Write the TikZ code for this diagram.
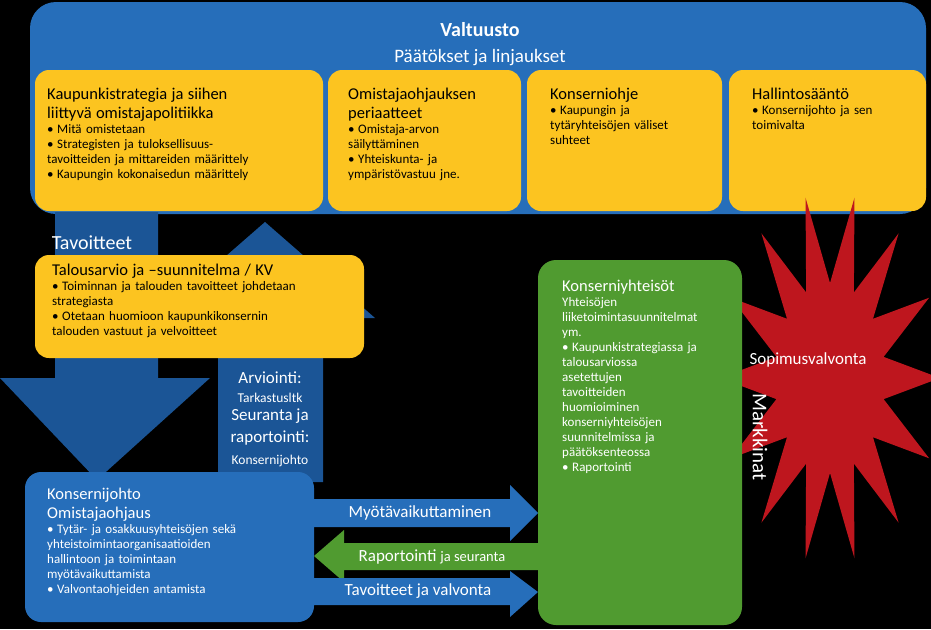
\documentclass[tikz,border=0pt]{standalone}
\usepackage{fontspec}
\setmainfont{Carlito}
\definecolor{valtblue}{RGB}{38,110,186}
\definecolor{darkblue}{RGB}{27,85,150}
\definecolor{boxyellow}{RGB}{252,196,32}
\definecolor{boxgreen}{RGB}{80,155,48}
\definecolor{starred}{RGB}{190,22,30}
\tikzset{
  ybox/.style={fill=boxyellow, rounded corners=14pt, draw=none},
  btext/.style={anchor=north west, align=left, inner sep=0pt, font=\fontsize{13}{15}\selectfont,
    execute at begin node={\hyphenpenalty=10000\exhyphenpenalty=10000}},
  wtext/.style={text=white, align=center, inner sep=0pt},
}
\newcommand{\bul}[1]{\hangindent=10pt\hangafter=1\makebox[10pt][l]{\textbullet}#1\par}
\newcommand{\hd}[1]{{\fontsize{16.5}{19}\selectfont #1\par}}
\begin{document}
\begin{tikzpicture}[x=1pt,y=-1pt]
\fill[black] (0,0) rectangle (931,629);
\useasboundingbox (0,0) rectangle (931,629);

% valtuusto
\fill[valtblue, rounded corners=26pt] (30,2) rectangle (926,214);
\node[wtext, font=\fontsize{20}{22}\selectfont\bfseries] (valt) at (480,30) {Valtuusto};
\node[wtext, font=\fontsize{19}{21}\selectfont] (paat) at (480,58) {Päätökset ja linjaukset};

% arrows between levels
\fill[darkblue] (55,212) -- (158,212) -- (158,378) -- (210,378) -- (97,480) -- (0,378) -- (55,378) -- cycle;
\node[wtext, font=\fontsize{20}{22}\selectfont] (tav) at (92,243) {Tavoitteet};
\fill[darkblue] (265,222) -- (375,318) -- (323,318) -- (323,482) -- (218,482) -- (218,318) -- (155,318) -- cycle;

% yellow boxes
\fill[ybox] (35,70) rectangle (323,211);
\node[btext, text width=270pt] (strat) at (47,88) {\hd{Kaupunkistrategia ja siihen\\liittyvä omistajapolitiikka}
\bul{Mitä omistetaan}
\bul{Strategisten ja tuloksellisuus-\\tavoitteiden ja mittareiden määrittely}
\bul{Kaupungin kokonaisedun määrittely}};
\fill[ybox] (328,70) rectangle (521,211);
\node[btext, text width=170pt] (omis) at (348,88) {\hd{Omistajaohjauksen\\periaatteet}
\bul{Omistaja-arvon\\säilyttäminen}
\bul{Yhteiskunta- ja\\ympäristövastuu jne.}};
\fill[ybox] (527,70) rectangle (722,211);
\node[btext, text width=170pt] (kons) at (550,88) {\hd{Konserniohje}
\bul{Kaupungin ja\\tytäryhteisöjen väliset\\suhteet}};
\fill[ybox] (729,70) rectangle (926,211);
\node[btext, text width=170pt] (hall) at (752,88) {\hd{Hallintosääntö}
\bul{Konsernijohto ja sen\\toimivalta}};

\fill[ybox] (35,255) rectangle (364,358);
\node[btext, text width=310pt] (talo) at (52,264) {\hd{Talousarvio ja –suunnitelma / KV}
\bul{Toiminnan ja talouden tavoitteet johdetaan\\strategiasta}
\bul{Otetaan huomioon kaupunkikonsernin\\talouden vastuut ja velvoitteet}};

\node[wtext, font=\fontsize{17}{19}\selectfont] (arv) at (270,378) {Arviointi:};
\node[wtext, font=\fontsize{13.5}{15}\selectfont] (tark) at (270,398) {Tarkastusltk};
\node[wtext, font=\fontsize{17}{22}\selectfont] (seur) at (270,427) {Seuranta ja\\raportointi:};
\node[wtext, font=\fontsize{13.5}{15}\selectfont] (kjoh) at (270,461) {Konsernijohto};

% konsernijohto
\fill[valtblue, rounded corners=16pt] (25,472) rectangle (314,622);
\node[btext, text width=265pt, text=white] (konj) at (47,488) {\hd{Konsernijohto\\Omistajaohjaus}
\bul{Tytär- ja osakkuusyhteisöjen sekä\\yhteistoimintaorganisaatioiden\\hallintoon ja toimintaan\\myötävaikuttamista}
\bul{Valvontaohjeiden antamista}};

% red star
\fill[starred] (940,378) \foreach \i in {1,...,27} {
  -- ({830+(82.5+27.5*cos(\i*180))*cos(\i*360/28)},{378+(140+45*cos(\i*180))*sin(\i*360/28)})} -- cycle;
\node[wtext, font=\fontsize{17}{19}\selectfont] (sopi) at (808,360) {Sopimusvalvonta};
\node[wtext, font=\fontsize{21}{23}\selectfont, rotate=-90] (markk) at (760,437) {Markkinat};

% green box
\fill[boxgreen, rounded corners=18pt] (538,260) rectangle (742,625);
\node[btext, text width=175pt, text=white] (kyht) at (562,280) {\hd{Konserniyhteisöt}
{Yhteisöjen\\liiketoimintasuunnitelmat\\ym.\par}
\bul{Kaupunkistrategiassa ja\\talousarviossa\\asetettujen\\tavoitteiden\\huomioiminen\\konserniyhteisöjen\\suunnitelmissa ja\\päätöksenteossa}
\bul{Raportointi}};

% horizontal arrows
\fill[valtblue] (313,499) -- (510,499) -- (510,485) -- (538,513) -- (510,541) -- (510,527) -- (313,527) -- cycle;
\node[wtext, font=\fontsize{17}{19}\selectfont] (myot) at (420,513) {Myötävaikuttaminen};
\fill[boxgreen] (538,543) -- (344,543) -- (344,530) -- (314,556) -- (344,582) -- (344,570) -- (538,570) -- cycle;
\node[wtext, font=\fontsize{17}{19}\selectfont] (rapo) at (432,557) {Raportointi {\fontsize{14.5}{16}\selectfont ja seuranta}};
\fill[valtblue] (313,578) -- (510,578) -- (510,571) -- (538,592) -- (510,617) -- (510,605) -- (313,605) -- cycle;
\node[wtext, font=\fontsize{17}{19}\selectfont] (tava) at (418,591) {Tavoitteet ja valvonta};
\end{tikzpicture}
\end{document}
